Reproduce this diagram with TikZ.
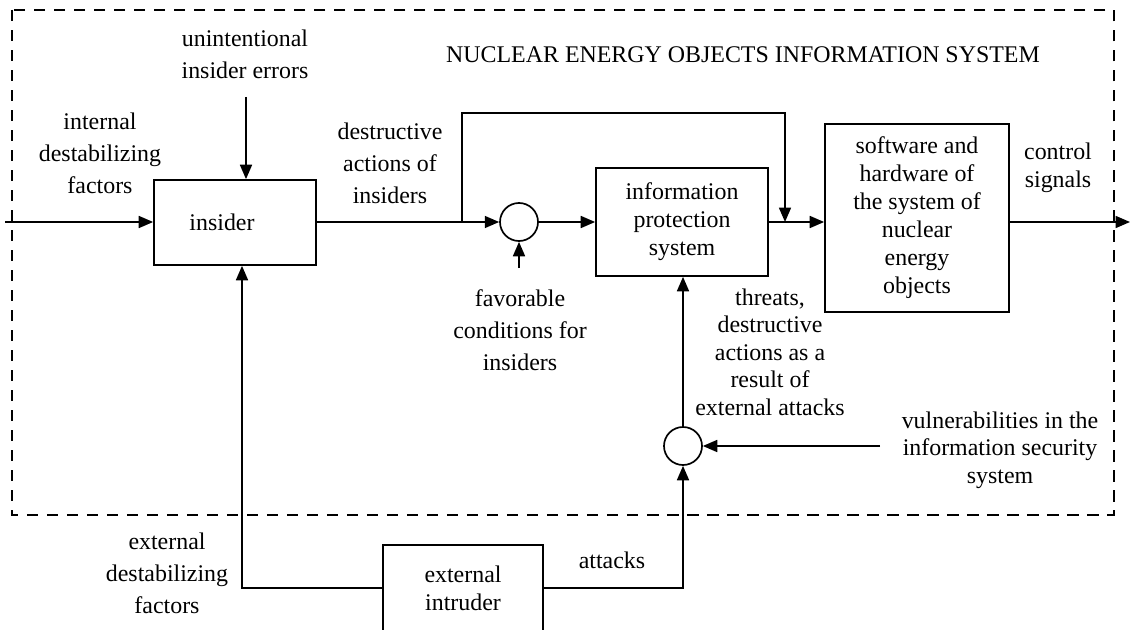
\documentclass[tikz,border=0pt]{standalone}
\usepackage{fontspec}
\setmainfont{Liberation Serif}
\usetikzlibrary{arrows.meta}
\begin{document}
\begin{tikzpicture}[x = 0.025cm, y = -0.025cm,
        arr/.style = {line width = 1.2pt, -{Triangle[length = 0.36cm, width = 0.3cm]}},
        blk/.style = {draw, line width = 1.2pt, align = center, inner sep = 0pt,
            font = \fontsize{17}{19.9}\selectfont},
        sum/.style = {draw, circle, line width = 1.2pt, minimum size = 0.95cm, inner sep = 0pt},
        lbl/.style = {align = center, font = \fontsize{17}{22.8}\selectfont},
        lblt/.style = {align = center, font = \fontsize{17}{19.6}\selectfont}]
    \useasboundingbox (0, 0) rectangle (1130, 630);
    % system frame
    \draw[line width = 1.2pt, dash pattern = on 0.28cm off 0.22cm] (12, 10) rectangle (1114, 515);
    \node[lbl] (title) at (743, 55) {NUCLEAR ENERGY OBJECTS INFORMATION SYSTEM};
    % blocks
    \node[blk, minimum width = 4.05cm, minimum height = 2.125cm] (ins) at (235, 222.5) {\hspace*{-0.65cm}insider};
    \node[sum] (c1) at (519, 222) {};
    \node[blk, minimum width = 4.3cm, minimum height = 2.7cm] (ips) at (682, 222) {information\\protection\\system};
    \node[blk, minimum width = 4.6cm, minimum height = 4.7cm] (soft) at (917, 218) {software and\\hardware of\\the system of\\nuclear\\energy\\objects};
    \node[sum] (c2) at (683, 446) {};
    \node[blk, minimum width = 4cm, minimum height = 2.15cm] (intr) at (463, 588) {external\\intruder};
    % labels
    \node[lbl] (unint) at (245, 54) {unintentional\\insider errors};
    \node[lbl] (intdf) at (100, 153) {internal\\destabilizing\\factors};
    \node[lbl] (destr) at (390, 163) {destructive\\actions of\\insiders};
    \node[lbl] (fav) at (520, 330) {favorable\\conditions for\\insiders};
    \node[lblt] (ctrl) at (1058, 168) {control\\signals};
    \node[lblt] (threat) at (770, 352) {threats,\\destructive\\actions as a\\result of\\external attacks};
    \node[lblt] (vuln) at (1000, 450) {vulnerabilities in the\\information security\\system};
    \node[lbl] (att) at (612, 560) {attacks};
    \node[lbl] (extdf) at (167, 573) {external\\destabilizing\\factors};
    % free ends
    \coordinate (in) at (5, 222);
    \coordinate (errs) at (246, 97);
    \coordinate (fb) at (462, 222);
    \coordinate (fbtop) at (785, 113);
    \coordinate (favtail) at (519, 268);
    \coordinate (out) at (1130, 222);
    \coordinate (vultail) at (880, 446);
    \coordinate (extc) at (242, 588);
    % connectors
    \draw[arr] (in) -- (ins.west |- in);
    \draw[arr] (errs) -- (errs |- ins.north);
    \draw[arr] (ins.east |- c1) -- (c1.west);
    \draw[arr] (fb) |- (fbtop) -- (fbtop |- ips.east);
    \draw[arr] (c1.east) -- (ips.west);
    \draw[arr] (favtail) -- (c1.south);
    \draw[arr] (ips.east) -- (ips.east -| soft.west);
    \draw[arr] (soft.east |- out) -- (out);
    \draw[arr] (c2.north) -- (c2.north |- ips.south);
    \draw[arr] (vultail) -- (c2.east);
    \draw[arr] (intr.east) -| (c2.south);
    \draw[arr] (intr.west) -- (extc) -- (extc |- ins.south);
\end{tikzpicture}
\end{document}
